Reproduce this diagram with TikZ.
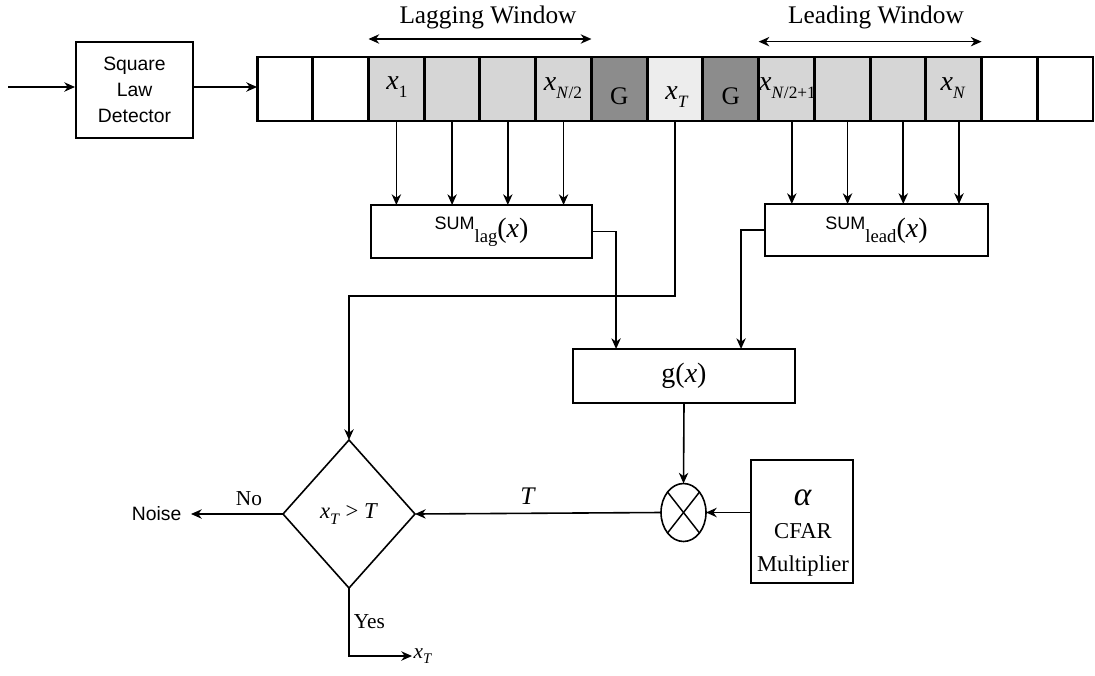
\documentclass[tikz,border=0pt]{standalone}
\usepackage{fontspec}
\setmainfont{Liberation Serif}
\setsansfont{Liberation Sans}
\usetikzlibrary{arrows.meta,shapes.geometric,calc}

\definecolor{winfill}{gray}{0.84}
\definecolor{guardfill}{gray}{0.55}
\definecolor{cutfill}{gray}{0.93}

% italic sample with a lowered index
\newcommand{\smp}[1]{\textit{x}\raisebox{-6pt}{\fontsize{13}{13}\selectfont #1}}
\newcommand{\sumof}[1]{{\sffamily\fontsize{13.5}{14}\selectfont\raisebox{6pt}{SUM}}\raisebox{-4pt}{\fontsize{14}{14}\selectfont #1}(\textit{x})}

\tikzset{
  cell/.style={draw, line width=2.2pt, minimum width=41.8pt, minimum height=48pt, inner sep=0pt, outer sep=0pt},
  sumbox/.style={draw, line width=1.5pt, minimum width=166pt, minimum height=40pt, inner sep=0pt, outer sep=0pt},
  conn/.style={line width=1.2pt, -{Stealth[length=8pt,width=7pt,inset=2.5pt]}},
  wndarrow/.style={line width=1.2pt, {Stealth[length=8pt,width=7pt,inset=2.5pt]}-{Stealth[length=8pt,width=7pt,inset=2.5pt]}},
  sanstext/.style={font=\sffamily\fontsize{14.5}{19.5}\selectfont},
  celltext/.style={font=\fontsize{21}{24}\selectfont, anchor=base, inner sep=0pt},
  wndtext/.style={font=\fontsize{19}{22}\selectfont, anchor=base, inner sep=0pt},
  lbltext/.style={font=\fontsize{16}{19}\selectfont},
}

\begin{document}
\begin{tikzpicture}[x=0.75pt,y=0.75pt,yscale=-1]
\useasboundingbox (0,0) rectangle (1095,675);

%Shape: Rectangle [square law detector]
\node [draw, line width=1.5pt, minimum width=87.75pt, minimum height=72pt, inner sep=0pt, align=center, sanstext] (sld) at (134.5,90) {Square\\Law\\Detector};
\coordinate (in) at (8,87);

%Shape: Cells of the register
\foreach \c [count=\i from 0] in {white,white,winfill,winfill,winfill,winfill,guardfill,cutfill,guardfill,winfill,winfill,winfill,winfill,white,white}
  \node [cell, fill=\c] (c\i) at (284.9+55.73*\i,89) {};

% Text Node
\node [celltext] (lx1) at (397,89) {\smp{1}};
\node [celltext] (lxh) at (563,90) {\smp{\textit{N}/2}};
\node [celltext, font=\fontsize{19}{22}\selectfont] (lg1) at (619.3,104) {G};
\node [celltext] (lxt) at (677,99) {\smp{\textit{T}}};
\node [celltext, font=\fontsize{19}{22}\selectfont] (lg2) at (730.7,104) {G};
\node [celltext] (lxh1) at (787.5,90) {\smp{\textit{N}/2+1}};
\node [celltext] (lxn) at (953,90) {\smp{\textit{N}}};

%Straight Lines [windows]
\draw [wndarrow] ([yshift=-13.5pt]c2.north west) -- ([yshift=-13.5pt]c5.north east);
\draw [wndarrow] ([yshift=-11.5pt]c9.north west) -- ([yshift=-11.5pt]c12.north east);
% Text Node
\node [wndtext] (lagtxt) at (488,23) {Lagging Window};
\node [wndtext] (leadtxt) at (876,23) {Leading Window};

%Shape: Rectangle [sums and g]
\node [sumbox, minimum width=165.75pt, minimum height=39.75pt, font=\fontsize{21}{22}\selectfont] (sumlag) at (481.5,231.5) {\sumof{lag}};
\node [sumbox, minimum width=167pt, minimum height=39pt, font=\fontsize{21}{22}\selectfont] (sumlead) at (876.5,230) {\sumof{lead}};
\node [sumbox, minimum width=166.5pt, minimum height=40.5pt, font=\fontsize{21}{22}\selectfont] (g) at (684,376) {g(\textit{x})};

%Shape: Ellipse [multiplier]
\node [ellipse, draw, line width=1.2pt, minimum width=33.75pt, minimum height=43.5pt, inner sep=0pt, outer sep=0pt] (mult) at (683.5,512.5) {};
\draw [line width=1.1pt] (mult.52) -- (mult.232);
\draw [line width=1.1pt] (mult.128) -- (mult.308);

%Shape: Rectangle [CFAR]
\node [draw, line width=1.2pt, minimum width=76.5pt, minimum height=92pt, inner sep=0pt, outer sep=0pt] (cfar) at (802,521.5) {};
\node [align=center, font=\fontsize{17}{25}\selectfont, inner sep=0pt] (cfartxt) at (803,533) {{\fontsize{25}{25}\selectfont\textit{α}}\\CFAR\\Multiplier};

%Shape: Diamond [threshold test]
\node [diamond, draw, line width=1.2pt, minimum width=99pt, minimum height=111pt, aspect=0.89, inner sep=0pt, outer sep=0pt, font=\fontsize{17}{18}\selectfont] (test) at (349,514) {\textit{x}\raisebox{-4pt}{\fontsize{12}{12}\selectfont\textit{T}} > \textit{T}};

% Text Node
\node [sanstext, inner xsep=7pt, inner ysep=0pt, anchor=east] (noise) at (191,514) {Noise};
\node [anchor=west, inner sep=1pt, font=\fontsize{16}{18}\selectfont] (out) at (412,656) {\textit{x}\raisebox{-4pt}{\fontsize{11}{11}\selectfont\textit{T}}};

%Straight Lines
\draw [conn] (in) -- (in -| sld.west);
\draw [conn] (sld.east |- in) -- (c0.west |- in);
\foreach \i in {2,...,5}
  \draw [conn] (c\i.south) -- (c\i.south |- sumlag.north);
\foreach \i in {9,...,12} {
  \coordinate (t\i) at ([xshift=4pt]c\i.south);
  \draw [conn] (t\i) -- (t\i |- sumlead.north);
}
\draw [conn] (sumlag.east) -| ($(g.north west)!0.194!(g.north east)$);
\draw [conn] (sumlead.west) -| ($(g.north west)!0.757!(g.north east)$);
\draw [conn] (c7.south) -- ++(0,175) -| (test.north);
\draw [conn] (g.south) -- (mult.north);
\draw [conn] (mult.east -| cfar.west) -- (mult.east);
\draw [conn] (mult.west) -- node [pos=0.54, above, inner sep=6pt, font=\fontsize{19}{20}\selectfont] (tlbl) {\textit{T}} (test.east);
\draw [conn] (test.west) -- node [pos=0.37, above, inner sep=6pt, lbltext] (nolbl) {No} (noise.east);
\draw [conn] (test.south) |- node [pos=0.25, right, inner sep=3pt, lbltext] (yeslbl) {Yes} (out.west);

\end{tikzpicture}
\end{document}
